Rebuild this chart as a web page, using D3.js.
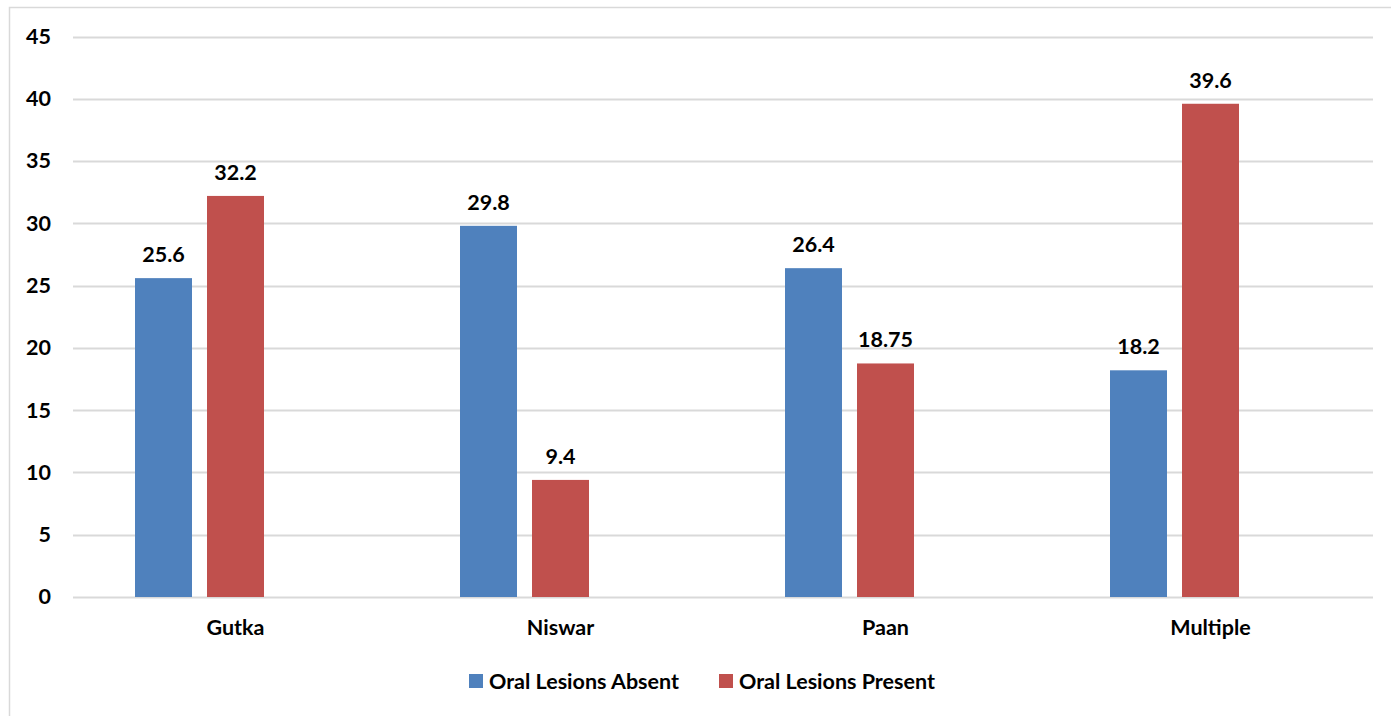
<!DOCTYPE html>
<html>
<head>
<meta charset="utf-8">
<script src="https://cdn.jsdelivr.net/npm/d3@7"></script>
<style>
  html, body { margin: 0; padding: 0; background: #fff; }
  svg { display: block; font-family: Lato, "Open Sans", sans-serif; font-weight: 700; }
</style>
</head>
<body>
<svg id="chart" width="1391" height="716"></svg>
<script>
// Tobacco product categories and percentage of patients per lesion status
const categories = ["Gutka", "Niswar", "Paan", "Multiple"];
const seriesNames = ["Oral Lesions Absent", "Oral Lesions Present"];
const absentValues = [25.6, 29.8, 26.4, 18.2];
const presentValues = [32.2, 9.4, 18.75, 39.6];
const valueLabels = [["25.6", "29.8", "26.4", "18.2"], ["32.2", "9.4", "18.75", "39.6"]];
const yTicks = [0, 5, 10, 15, 20, 25, 30, 35, 40, 45];
const colors = ["#4F81BD", "#C0504D"];

const FONT = "Lato, 'Open Sans', sans-serif";
const FS = 21.5;

const svg = d3.select("#chart");
const W = 1391, H = 716;

// outer chart frame
svg.append("rect")
  .attr("x", 9.5).attr("y", 7.5)
  .attr("width", W + 10).attr("height", H + 10)
  .attr("fill", "none").attr("stroke", "#d9d9d9").attr("stroke-width", 1.5);

const plot = { left: 73, right: 1373, top: 36.5, bottom: 597 };

const x = d3.scaleBand().domain(categories).range([plot.left, plot.right]).paddingInner(0).paddingOuter(0);
const y = d3.scaleLinear().domain([0, 45]).range([plot.bottom, plot.top]);

// three slots per category, the last one left empty
const slot = d3.scaleBand().domain([0, 1, 2]).range([62, x.bandwidth() - 62]).paddingInner(15 / 72).paddingOuter(0);

// gridlines
svg.append("g").selectAll("line").data(yTicks).join("line")
  .attr("x1", plot.left).attr("x2", plot.right)
  .attr("y1", d => Math.round(y(d)) + 0.5).attr("y2", d => Math.round(y(d)) + 0.5)
  .attr("stroke", "#d9d9d9").attr("stroke-width", 2);

// y axis labels
const yAxis = d3.axisLeft(y).tickValues(yTicks).tickSize(0).tickPadding(0);
const yg = svg.append("g").attr("transform", "translate(51,0)").call(yAxis);
yg.select(".domain").remove();
yg.selectAll("text").attr("font-size", FS).attr("font-weight", 700).attr("fill", "#000")
  .attr("font-family", FONT);

// x axis labels
const xAxis = d3.axisBottom(x).tickSize(0).tickPadding(0);
const xg = svg.append("g").attr("transform", `translate(0,${plot.bottom + 23})`).call(xAxis);
xg.select(".domain").remove();
xg.selectAll("text").attr("font-size", FS).attr("font-weight", 700).attr("fill", "#000")
  .attr("font-family", FONT);

const seriesValues = [absentValues, presentValues];
seriesValues.forEach((vals, si) => {
  const g = svg.append("g");
  g.selectAll("rect").data(vals).join("rect")
    .attr("x", (d, i) => x(categories[i]) + slot(si))
    .attr("y", d => y(d))
    .attr("width", slot.bandwidth())
    .attr("height", d => y(0) - y(d))
    .attr("fill", colors[si]);
  g.selectAll("text").data(vals).join("text")
    .attr("x", (d, i) => x(categories[i]) + slot(si) + slot.bandwidth() / 2)
    .attr("y", d => y(d) - 16)
    .attr("text-anchor", "middle")
    .attr("font-size", FS)
    .attr("fill", "#000")
    .text((d, i) => valueLabels[si][i]);
});

// legend
const legendItems = [{ x: 469, i: 0 }, { x: 719, i: 1 }];
const lg = svg.append("g");
legendItems.forEach(it => {
  lg.append("rect").attr("x", it.x).attr("y", 674).attr("width", 14).attr("height", 14).attr("fill", colors[it.i]);
  lg.append("text").attr("x", it.x + 20).attr("y", 689).attr("font-size", FS).attr("fill", "#000")
    .text(seriesNames[it.i]);
});
</script>
</body>
</html>
